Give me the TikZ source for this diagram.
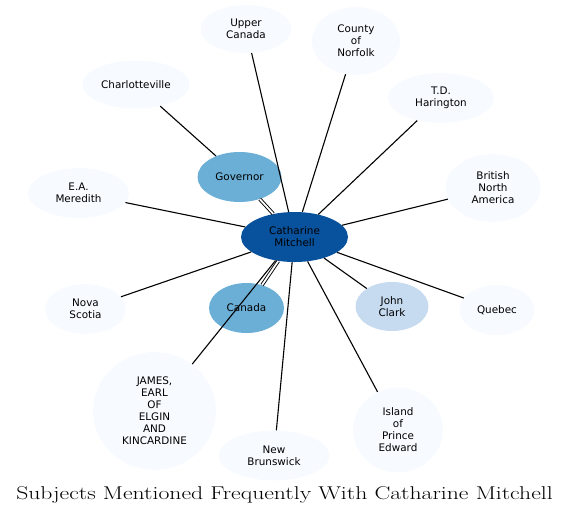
\documentclass[tikz,border=0pt]{standalone}
\usepackage{fontspec}
\usepackage{graphicx}
\usetikzlibrary{shapes.geometric}
\newfontfamily\nodefont{DejaVu Sans}
\definecolor{cpale}{HTML}{F7FBFF}
\definecolor{cmid}{HTML}{6BAED6}
\definecolor{clight}{HTML}{C6DBEF}
\definecolor{cdark}{HTML}{08519C}
\tikzset{
  ent/.style={ellipse, fill=cpale, inner sep=0pt, align=center,
    font=\nodefont\fontsize{10.4}{12}\selectfont},
  edge/.style={draw=black, line width=1.1pt},
  dedge/.style={draw=black, line width=0.9pt, double=white, double distance=1.8pt}
}
\begin{document}
\begin{tikzpicture}[x=1pt,y=-1pt]
\useasboundingbox (0,0) rectangle (569,517);
\node[ent, fill=cdark, minimum width=107pt, minimum height=50pt] (cm) at (294.5,237) {Catharine\\Mitchell};
\node[ent, minimum width=91pt, minimum height=48pt] (uc) at (246,29) {Upper\\Canada};
\node[ent, minimum width=88pt, minimum height=68pt] (cn) at (356,41) {County\\of\\Norfolk};
\node[ent, minimum width=107pt, minimum height=48pt] (ch) at (136,84.5) {Charlotteville};
\node[ent, minimum width=106pt, minimum height=50pt] (td) at (441,98) {T.D.\\Harington};
\node[ent, fill=cmid, minimum width=84pt, minimum height=50pt] (gov) at (239.5,177) {Governor};
\node[ent, minimum width=101pt, minimum height=50pt] (ea) at (78.5,193) {E.A.\\Meredith};
\node[ent, minimum width=95pt, minimum height=68pt] (bna) at (493,188) {British\\North\\America};
\node[ent, minimum width=81pt, minimum height=50pt] (ns) at (85.5,309) {Nova\\Scotia};
\node[ent, fill=cmid, minimum width=75pt, minimum height=50pt] (can) at (246.5,308) {Canada};
\node[ent, fill=clight, minimum width=73pt, minimum height=49pt] (jc) at (392,306.5) {John\\Clark};
\node[ent, minimum width=75pt, minimum height=50pt] (qc) at (497,310) {Quebec};
\node[ent, minimum width=123pt, minimum height=118pt] (je) at (154.5,411) {JAMES,\\EARL\\OF\\ELGIN\\AND\\KINCARDINE};
\node[ent, minimum width=111pt, minimum height=50pt] (nb) at (274,455.5) {New\\Brunswick};
\node[ent, minimum width=90pt, minimum height=85pt] (pe) at (398,430) {Island\\of\\Prince\\Edward};
\foreach \n in {uc,cn,td,ea,bna,ns,qc,jc,je,nb,pe}{\draw[edge] (cm) -- (\n);}
\draw[edge] (gov) -- (ch);
\draw[dedge] (cm) -- (gov);
\draw[dedge] (cm) -- (can);
\node[inner sep=0pt] (title) at (284.5,495) {\fontsize{18.5}{20}\selectfont\scalebox{1.28}[1]{Subjects Mentioned Frequently With Catharine Mitchell}};
\end{tikzpicture}
\end{document}
